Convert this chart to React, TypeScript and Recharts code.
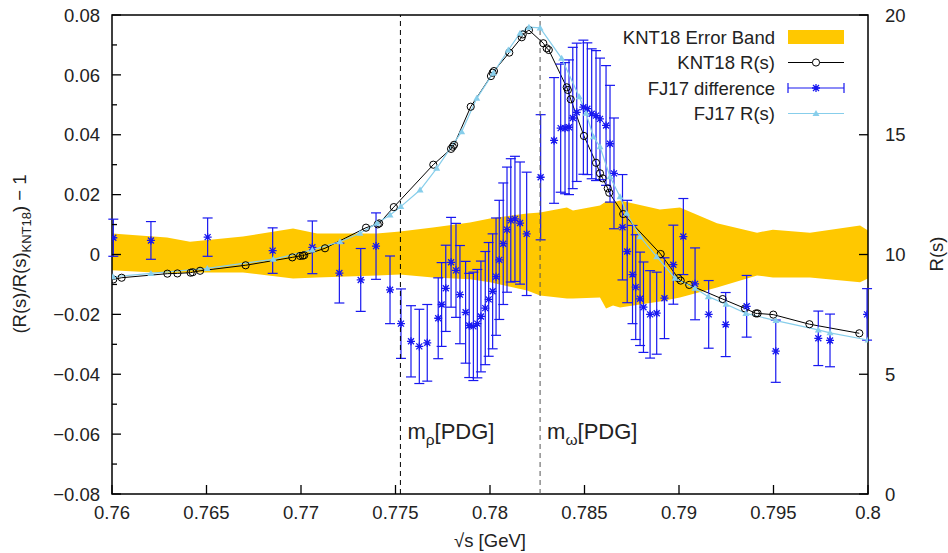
import {
  ComposedChart,
  Area,
  Line,
  Scatter,
  ErrorBar,
  XAxis,
  YAxis,
  ReferenceLine,
  ReferenceArea,
  Label,
} from 'recharts'

const FONT = '"Liberation Sans", Arial, Helvetica, sans-serif'
const FS = 18.5
const BLUE = '#1818f0'
const SKY = '#87ceeb'
const GOLD = '#ffc800'

// KNT18 error band, relative to KNT18 R(s)
const BAND_X = [0.76, 0.76291, 0.76413, 0.76693, 0.76958, 0.77085, 0.77402, 0.77524, 0.77698, 0.77894, 0.78, 0.78196, 0.78265, 0.78407, 0.78439, 0.78582, 0.78614, 0.78651, 0.78688, 0.78899, 0.79005, 0.79201, 0.79413, 0.79497, 0.79693, 0.79958, 0.8]
const BAND_HI = [0.007, 0.0057, 0.0043, 0.006, 0.0087, 0.007, 0.007, 0.0077, 0.009, 0.0107, 0.012, 0.0137, 0.014, 0.0157, 0.0147, 0.0164, 0.0177, 0.0174, 0.018, 0.015, 0.0157, 0.0104, 0.0073, 0.0083, 0.0073, 0.0097, 0.008]
const BAND_LO = [-0.0053, -0.0063, -0.006, -0.006, -0.008, -0.0077, -0.007, -0.0067, -0.0077, -0.0083, -0.0093, -0.012, -0.0137, -0.0147, -0.0147, -0.0144, -0.018, -0.017, -0.0177, -0.0157, -0.0144, -0.011, -0.007, -0.0077, -0.0077, -0.0093, -0.008]

// KNT18 R(s)
const KNT_X = [0.76007, 0.76051, 0.76293, 0.76346, 0.76416, 0.76427, 0.76466, 0.76707, 0.76954, 0.76995, 0.77009, 0.77017, 0.77127, 0.77344, 0.77406, 0.77414, 0.77491, 0.777, 0.77794, 0.77803, 0.7781, 0.77898, 0.78005, 0.78014, 0.78021, 0.78102, 0.78168, 0.78173, 0.78206, 0.78282, 0.783, 0.78311, 0.78406, 0.78412, 0.78427, 0.78497, 0.78561, 0.78582, 0.78596, 0.78623, 0.78631, 0.78705, 0.78903, 0.78996, 0.79009, 0.79054, 0.79231, 0.79349, 0.79407, 0.79416, 0.79499, 0.7969, 0.79954]
const KNT_R = [8.96, 9.03, 9.2, 9.21, 9.24, 9.26, 9.32, 9.55, 9.88, 9.94, 9.95, 9.97, 10.26, 11.12, 11.26, 11.3, 11.98, 13.75, 14.41, 14.5, 14.58, 16.17, 17.45, 17.59, 17.66, 18.43, 19.07, 19.19, 19.37, 18.82, 18.61, 18.54, 16.98, 16.87, 16.48, 14.95, 13.83, 13.39, 13.18, 12.76, 12.58, 11.69, 10.02, 9.01, 8.91, 8.73, 8.14, 7.75, 7.54, 7.54, 7.49, 7.09, 6.71]

// FJ17 R(s)
const FJ_X = [0.76005, 0.76206, 0.76504, 0.76853, 0.7706, 0.77206, 0.77312, 0.77401, 0.77471, 0.77528, 0.7763, 0.77718, 0.7785, 0.7793, 0.78017, 0.78097, 0.78159, 0.78206, 0.78265, 0.78379, 0.78472, 0.78508, 0.78547, 0.78582, 0.78635, 0.78688, 0.78723, 0.78794, 0.78882, 0.78979, 0.79085, 0.79155, 0.79249, 0.79354, 0.79513, 0.79737, 0.79799, 0.8]
const FJ_R = [9.07, 9.21, 9.42, 9.8, 10.19, 10.53, 10.89, 11.3, 11.65, 12.0, 12.69, 13.6, 15.13, 16.52, 17.57, 18.54, 19.24, 19.49, 19.46, 18.19, 16.59, 15.9, 14.92, 14.5, 13.25, 12.41, 11.72, 10.74, 9.91, 9.01, 8.59, 8.24, 7.92, 7.54, 7.24, 6.85, 6.73, 6.43]

// FJ17 difference (R_FJ17 / R_KNT18 - 1) with its uncertainty
const DIFF_X = [0.76007, 0.76206, 0.76506, 0.7685, 0.7706, 0.77203, 0.77316, 0.77397, 0.77471, 0.77529, 0.77582, 0.77626, 0.77668, 0.77726, 0.77744, 0.77766, 0.77794, 0.7782, 0.77841, 0.77871, 0.7789, 0.77912, 0.77933, 0.77952, 0.77975, 0.77993, 0.78014, 0.78032, 0.78049, 0.7807, 0.7809, 0.7811, 0.78132, 0.78159, 0.78194, 0.78268, 0.78339, 0.78374, 0.78397, 0.78418, 0.78438, 0.78459, 0.78494, 0.78515, 0.78538, 0.78561, 0.78582, 0.78614, 0.78635, 0.78656, 0.78701, 0.78726, 0.78754, 0.78771, 0.78794, 0.78812, 0.78847, 0.78882, 0.78923, 0.7897, 0.79023, 0.79085, 0.79157, 0.79247, 0.79358, 0.79512, 0.79737, 0.79799, 0.79995]
const DIFF = [0.0056, 0.0047, 0.0058, 0.0013, 0.0024, -0.0062, -0.0085, 0.0028, -0.0118, -0.0231, -0.029, -0.0307, -0.0295, -0.0213, -0.0167, -0.0113, -0.0026, -0.0053, -0.0134, -0.0193, -0.0237, -0.024, -0.0231, -0.0207, -0.0179, -0.015, -0.0123, -0.0074, -0.0018, 0.0036, 0.0083, 0.0114, 0.0119, 0.0105, 0.0069, 0.0258, 0.0381, 0.0422, 0.0422, 0.0425, 0.0456, 0.0475, 0.0492, 0.0487, 0.047, 0.0464, 0.0453, 0.0431, 0.037, 0.0271, 0.0091, 0.001, -0.0067, -0.0109, -0.0148, -0.0176, -0.02, -0.0196, -0.0146, -0.0034, 0.006, -0.0098, -0.02, -0.0234, -0.0173, -0.0323, -0.028, -0.0287, -0.02]
const DIFF_ERR = [0.0062, 0.0063, 0.0064, 0.0076, 0.0088, 0.01, 0.0105, 0.0111, 0.0113, 0.0116, 0.0119, 0.0124, 0.0128, 0.0135, 0.014, 0.0144, 0.015, 0.0157, 0.0164, 0.017, 0.0174, 0.0181, 0.0181, 0.0185, 0.0189, 0.019, 0.0192, 0.0196, 0.0199, 0.0203, 0.0209, 0.0206, 0.0209, 0.0204, 0.0206, 0.0209, 0.021, 0.0214, 0.0219, 0.0225, 0.0236, 0.0231, 0.0224, 0.022, 0.0217, 0.0217, 0.0203, 0.02, 0.0195, 0.0185, 0.0176, 0.0171, 0.0164, 0.0175, 0.0156, 0.0151, 0.0146, 0.0137, 0.0135, 0.0132, 0.0127, 0.012, 0.0113, 0.0107, 0.0103, 0.0104, 0.0091, 0.0088, 0.0086]

const X_TICKS = [0.76, 0.765, 0.77, 0.775, 0.78, 0.785, 0.79, 0.795, 0.8]
const LEFT_TICKS = [-0.08, -0.07, -0.06, -0.05, -0.04, -0.03, -0.02, -0.01, 0, 0.01, 0.02, 0.03, 0.04, 0.05, 0.06, 0.07, 0.08]
const RIGHT_TICKS = [0, 5, 10, 15, 20]

const M_RHO = 0.77526
const M_OMEGA = 0.78265

const bandData = BAND_X.map((x, i) => ({ x, band: [BAND_LO[i], BAND_HI[i]] }))
const kntData = KNT_X.map((x, i) => ({ x, r: KNT_R[i] }))
const fjData = FJ_X.map((x, i) => ({ x, r: FJ_R[i] }))
const diffData = DIFF_X.map((x, i) => ({ x, d: DIFF[i], err: DIFF_ERR[i] }))

const W = 948
const H = 553
const X_MARGIN = 12
const L_MARGIN = 12
const R_MARGIN = 17

const txt = { fontFamily: FONT, fontSize: FS, fill: '#222' }

const fmtLeft = (v: number) => {
  if (Math.abs(v) < 1e-9) return '0'
  return (v < 0 ? '\u2212' : '') + Math.abs(v).toFixed(2)
}

const XTick = ({ x, y, payload }: any) => {
  const ay = y - X_MARGIN
  return (
    <g>
      <line x1={x} x2={x} y1={ay} y2={ay - 9} stroke="#000" strokeWidth={1.3} />
      <text x={x} y={y} dy="0.72em" textAnchor="middle" {...txt}>
        {String(payload.value)}
      </text>
    </g>
  )
}

const LeftTick = ({ x, y, payload }: any) => {
  const v = payload.value as number
  const major = Math.round(v * 100) % 2 === 0
  const ax = x + L_MARGIN
  return (
    <g>
      <line x1={ax} x2={ax + (major ? 9 : 5)} y1={y} y2={y} stroke="#000" strokeWidth={1.3} />
      {major && (
        <text x={x} y={y} dy="0.36em" textAnchor="end" {...txt}>
          {fmtLeft(v)}
        </text>
      )}
    </g>
  )
}

const RightTick = ({ x, y, payload }: any) => {
  const ax = x - R_MARGIN
  return (
    <g>
      <line x1={ax} x2={ax - 9} y1={y} y2={y} stroke="#000" strokeWidth={1.3} />
      <text x={x} y={y} dy="0.36em" textAnchor="start" {...txt}>
        {String(payload.value)}
      </text>
    </g>
  )
}

const Asterisk = ({ cx, cy }: any) => {
  if (cx == null || cy == null) return <g />
  const s = 4
  const d = 3
  return (
    <path
      d={`M${cx - s},${cy}H${cx + s}M${cx},${cy - s}V${cy + s}M${cx - d},${cy - d}L${cx + d},${cy + d}M${cx - d},${cy + d}L${cx + d},${cy - d}`}
      stroke={BLUE}
      strokeWidth={1.3}
      fill="none"
    />
  )
}

const OpenCircle = (p: any) => (
  <circle key={`c${p.index}`} cx={p.cx} cy={p.cy} r={3.6} fill="none" stroke="#000" strokeWidth={1} />
)

const Triangle = (p: any) => {
  const { cx, cy } = p
  return <path key={`t${p.index}`} d={`M${cx},${cy - 3.5}L${cx + 3.5},${cy + 2.5}L${cx - 3.5},${cy + 2.5}Z`} fill={SKY} />
}

// "m_x[PDG]" tag beside a vertical mass line
const massLabel = (sub: string) => (props: any) => {
  const vb = props.viewBox || {}
  const x = (vb.x ?? 0) + 7
  const y = (vb.y ?? 0) + (vb.height ?? 0) - 55
  return (
    <text x={x} y={y} fontFamily={FONT} fontSize={22} fill="#222">
      m
      <tspan dy={6} fontSize={15.5}>
        {sub}
      </tspan>
      <tspan dy={-6}>[PDG]</tspan>
    </text>
  )
}

// legend rows and axis titles, drawn on top of the plot
const LegendOverlay = () => {
  const tx = 775
  const x0 = 788
  const x1 = 844
  const xm = (x0 + x1) / 2
  const rows = [37, 62.5, 88, 113.5]
  return (
    <svg width={W} height={H} style={{ position: 'absolute', left: 0, top: 0, pointerEvents: 'none' }}>
      <text x={tx} y={rows[0]} dy="0.36em" textAnchor="end" {...txt}>KNT18 Error Band</text>
      <rect x={x0} y={rows[0] - 7} width={x1 - x0} height={14} fill={GOLD} />

      <text x={tx} y={rows[1]} dy="0.36em" textAnchor="end" {...txt}>KNT18 R(s)</text>
      <line x1={x0} x2={x1} y1={rows[1]} y2={rows[1]} stroke="#000" strokeWidth={1} />
      <circle cx={xm} cy={rows[1]} r={3.6} fill="#fff" stroke="#000" strokeWidth={1} />

      <text x={tx} y={rows[2]} dy="0.36em" textAnchor="end" {...txt}>FJ17 difference</text>
      <path d={`M${x0},${rows[2]}H${x1}M${x0},${rows[2] - 5}V${rows[2] + 5}M${x1},${rows[2] - 5}V${rows[2] + 5}`} stroke={BLUE} strokeWidth={1.2} fill="none" />
      <Asterisk cx={xm} cy={rows[2]} />

      <text x={tx} y={rows[3]} dy="0.36em" textAnchor="end" {...txt}>FJ17 R(s)</text>
      <line x1={x0} x2={x1} y1={rows[3]} y2={rows[3]} stroke={SKY} strokeWidth={1.2} />
      <Triangle cx={xm} cy={rows[3]} index={0} />

      <text transform="translate(26,254) rotate(-90)" textAnchor="middle" {...txt}>
        (R(s)/R(s)
        <tspan dy={5} fontSize={13}>KNT18</tspan>
        <tspan dy={-5}>) {'\u2212'} 1</tspan>
      </text>
      <text x={490} y={547} textAnchor="middle" {...txt}>
        {'\u221A'}s [GeV]
      </text>
      <text transform="translate(943,254) rotate(-90)" textAnchor="middle" {...txt}>
        R(s)
      </text>
    </svg>
  )
}

export default function App() {
  return (
    <div style={{ position: 'fixed', left: 0, top: 0, width: W, height: H, background: '#fff' }}>
      <ComposedChart width={W} height={H} margin={{ top: 15, right: 0, bottom: 0, left: 0 }}>
        <XAxis
          dataKey="x"
          type="number"
          domain={[0.76, 0.8]}
          ticks={X_TICKS}
          interval={0}
          allowDataOverflow
          height={59}
          axisLine={false}
          tickLine={false}
          tickSize={0}
          tickMargin={X_MARGIN}
          tick={(p: any) => <XTick {...p} />}
        />
        <YAxis
          yAxisId="left"
          type="number"
          domain={[-0.08, 0.08]}
          ticks={LEFT_TICKS}
          interval={0}
          allowDataOverflow
          width={112}
          axisLine={false}
          tickLine={false}
          tickSize={0}
          tickMargin={L_MARGIN}
          tick={(p: any) => <LeftTick {...p} />}
        />
        <YAxis
          yAxisId="right"
          orientation="right"
          type="number"
          domain={[0, 20]}
          ticks={RIGHT_TICKS}
          interval={0}
          allowDataOverflow
          width={80}
          axisLine={false}
          tickLine={false}
          tickSize={0}
          tickMargin={R_MARGIN}
          tick={(p: any) => <RightTick {...p} />}
        />

        <Area
          yAxisId="left"
          data={bandData}
          dataKey="band"
          type="linear"
          fill={GOLD}
          fillOpacity={1}
          stroke="none"
          isAnimationActive={false}
        />

        <Line
          yAxisId="right"
          data={kntData}
          dataKey="r"
          type="linear"
          stroke="#000"
          strokeWidth={1}
          dot={OpenCircle}
          isAnimationActive={false}
        />

        <Scatter yAxisId="left" data={diffData} dataKey="d" shape={<Asterisk />} isAnimationActive={false}>
          <ErrorBar dataKey="err" direction="y" width={5} stroke={BLUE} strokeWidth={1.2} isAnimationActive={false} />
        </Scatter>

        <Line
          yAxisId="right"
          data={fjData}
          dataKey="r"
          type="linear"
          stroke={SKY}
          strokeWidth={1.2}
          dot={Triangle}
          isAnimationActive={false}
        />

        <ReferenceLine yAxisId="left" x={M_RHO} stroke="#000" strokeDasharray="5 4" strokeWidth={1}>
          <Label content={massLabel('\u03C1')} />
        </ReferenceLine>
        <ReferenceLine yAxisId="left" x={M_OMEGA} stroke="#555" strokeDasharray="5 4" strokeWidth={1}>
          <Label content={massLabel('\u03C9')} />
        </ReferenceLine>

        <ReferenceArea
          yAxisId="left"
          x1={0.76}
          x2={0.8}
          y1={-0.08}
          y2={0.08}
          fill="none"
          stroke="#000"
          strokeWidth={1.5}
        />
      </ComposedChart>
      <LegendOverlay />
    </div>
  )
}
